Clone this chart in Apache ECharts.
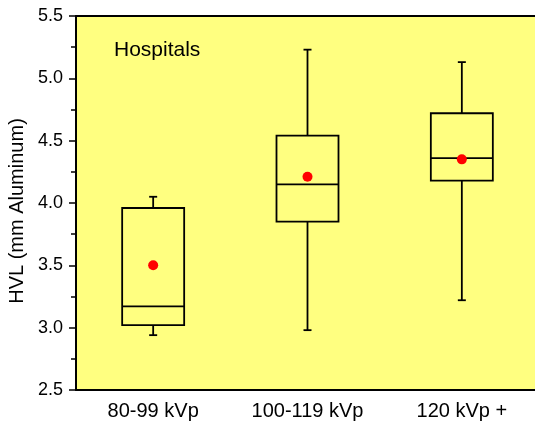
<!DOCTYPE html>
<html>
<head>
<meta charset="utf-8">
<script src="https://cdn.jsdelivr.net/npm/echarts@6/dist/echarts.min.js"></script>
<style>
  html, body { margin: 0; padding: 0; background: #fff; }
  #chart { width: 535px; height: 427px; }
</style>
</head>
<body>
<div id="chart"></div>
<script>
// 数据
var categories = ["80-99 kVp", "100-119 kVp", "120 kVp +"];
var whiskerLow = [2.94, 2.98, 3.22];
var boxLow = [3.02, 3.85, 4.18];
var medians = [3.17, 4.15, 4.36];
var boxHigh = [3.96, 4.54, 4.72];
var whiskerHigh = [4.05, 5.23, 5.13];
var means = [3.50, 4.21, 4.35];

(function() {
    var myChart = echarts.init(document.getElementById("chart"));

    var boxData = categories.map(function(c, i) {
        return [i, whiskerLow[i], boxLow[i], medians[i], boxHigh[i], whiskerHigh[i]];
    });
    var meanData = categories.map(function(c, i) {
        return [i, means[i]];
    });

    var font = "Liberation Sans, Arial, sans-serif";
    var lineStyle = { stroke: "#000", lineWidth: 1.8, fill: null };

    function renderBox(params, api) {
        var idx = api.value(0);
        var pLow = api.coord([idx, api.value(1)]);
        var pQ1 = api.coord([idx, api.value(2)]);
        var pMed = api.coord([idx, api.value(3)]);
        var pQ3 = api.coord([idx, api.value(4)]);
        var pHigh = api.coord([idx, api.value(5)]);
        var x = pMed[0];
        var half = 31;   // 箱体半宽
        var cap = 4;     // 须线端点半宽
        var line = function(x1, y1, x2, y2) {
            return { type: "line", shape: { x1: x1, y1: y1, x2: x2, y2: y2 }, style: lineStyle };
        };
        return {
            type: "group",
            children: [
                { type: "rect", shape: { x: x - half, y: pQ3[1], width: half * 2, height: pQ1[1] - pQ3[1] }, style: lineStyle },
                line(x - half, pMed[1], x + half, pMed[1]),
                line(x, pQ3[1], x, pHigh[1]),
                line(x, pQ1[1], x, pLow[1]),
                line(x - cap, pHigh[1], x + cap, pHigh[1]),
                line(x - cap, pLow[1], x + cap, pLow[1])
            ]
        };
    }

    var option = {
        animation: false,
        grid: {
            left: 76,
            top: 16,
            width: 463,
            height: 374,
            outerBoundsMode: "none",
            show: true,
            backgroundColor: "#FFFF80",
            borderWidth: 0
        },
        xAxis: [{
            type: "category",
            data: categories,
            axisLine: { lineStyle: { color: "#000", width: 2 } },
            axisTick: { alignWithLabel: true, length: 6, lineStyle: { color: "#000", width: 1.5 } },
            axisLabel: { color: "#000", fontSize: 20, fontFamily: font, margin: 11 },
            splitLine: { show: false }
        }, {
            // 顶部边框线
            type: "category",
            position: "top",
            data: categories,
            axisLine: { lineStyle: { color: "#000", width: 2 } },
            axisTick: { show: false },
            axisLabel: { show: false },
            splitLine: { show: false }
        }],
        yAxis: {
            type: "value",
            min: 2.5,
            max: 5.5,
            interval: 0.5,
            name: "HVL (mm Aluminum)",
            nameLocation: "middle",
            nameGap: 47,
            nameTextStyle: { color: "#000", fontSize: 20, fontFamily: font, padding: [0, 16, 0, 0] },
            axisLine: { show: true, lineStyle: { color: "#000", width: 2 } },
            axisTick: { show: true, length: 7, lineStyle: { color: "#000", width: 1.5 } },
            minorTick: { show: true, splitNumber: 2, length: 5, lineStyle: { color: "#000", width: 1.5 } },
            axisLabel: {
                color: "#000", fontSize: 18, fontFamily: font, margin: 13,
                formatter: function(v) { return v.toFixed(1); }
            },
            splitLine: { show: false }
        },
        graphic: [{
            type: "text",
            left: 114,
            top: 40,
            style: { text: "Hospitals", fill: "#000", font: "21px " + font }
        }],
        series: [{
            type: "custom",
            renderItem: renderBox,
            data: boxData,
            encode: { x: 0, y: [1, 2, 3, 4, 5] },
            z: 2
        }, {
            type: "scatter",
            data: meanData,
            symbol: "circle",
            symbolSize: 10,
            itemStyle: { color: "#FF0000", opacity: 1 },
            z: 3
        }]
    };

    myChart.setOption(option);
})();
</script>
</body>
</html>
